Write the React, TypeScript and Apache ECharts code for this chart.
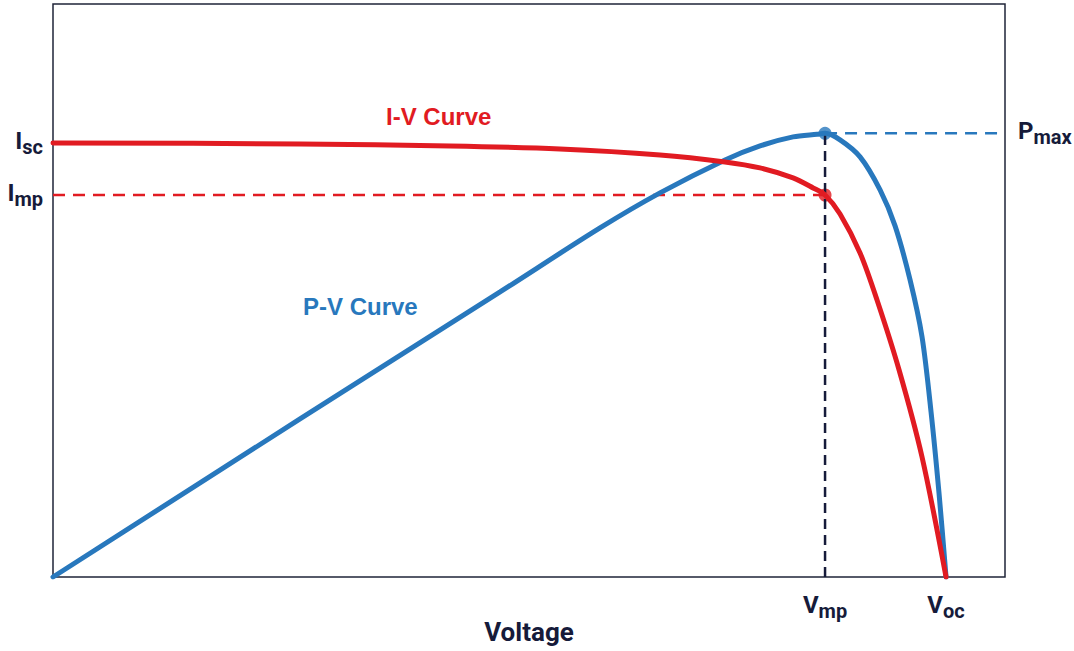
import React, { useEffect, useRef } from "react";
import * as echarts from "echarts";

// I-V curve (voltage normalised so that Voc = 100, current so that Isc = 100)
const ivVoltage = [0, 27.66, 44.46, 56.77, 67.97, 75.25, 79.17, 82.87, 85.11, 86.45, 88.13, 90.37, 92.27, 94.74, 97.31, 100];
const ivCurrent = [100, 99.77, 99.31, 98.62, 97.24, 95.62, 94.24, 91.94, 89.63, 88.0, 83.64, 74.65, 63.82, 47.7, 27.65, 0];

// P-V curve (same normalised axes)
const pvVoltage = [0, 27.66, 50.06, 61.25, 67.97, 75.25, 79.17, 82.87, 85.55, 86.45, 88.13, 90.37, 92.61, 94.29, 95.97, 97.31, 98.32, 99.22, 100];
const pvPower = [0, 36.41, 65.67, 80.41, 88.48, 96.08, 99.31, 101.38, 102.0, 102.2, 100.69, 96.77, 89.17, 80.88, 68.43, 55.3, 38.02, 19.12, 0];

const vmp = 86.45;
const voc = 100;
const isc = 100;
const imp = 88.0;
const pmax = 102.2;
const xMax = 106.6;
const yMax = 132;

const xTickLabels = ["V|mp", "V|oc"];
const leftTickLabels = ["I|sc", "I|mp"];
const rightTickLabels = ["P|max"];

const RED = "#e11b22";
const BLUE = "#2878bd";
const NAVY = "#161b3a";
const FONT = "Roboto, 'Liberation Sans', sans-serif";

const rich = {
  b: { fontSize: 24, fontWeight: "bold", color: NAVY, fontFamily: FONT, padding: [0, 0, 4, 0], verticalAlign: "bottom" },
  s: { fontSize: 20, fontWeight: "bold", color: NAVY, fontFamily: FONT, verticalAlign: "bottom" },
};

function fmt(lbl: string) {
  const [a, b] = lbl.split("|");
  return `{b|${a}}{s|${b}}`;
}

export default function App() {
  const ref = useRef<HTMLDivElement>(null);
  useEffect(() => {
    if (!ref.current) return;
    const chart = echarts.init(ref.current, undefined, { renderer: "svg" });
    const xVals = [vmp, voc];
    const leftVals = [isc, imp];
    chart.setOption({
      animation: false,
      grid: {
        left: 53,
        right: 69,
        top: 4,
        bottom: 74,
        show: true,
        containLabel: false,
        outerBoundsMode: "none",
        borderColor: "#1f2438",
        borderWidth: 1.5,
      },
      xAxis: {
        type: "value",
        min: 0,
        max: xMax,
        name: "Voltage",
        nameLocation: "middle",
        nameGap: 42,
        nameMoveOverlap: false,
        nameTextStyle: { fontSize: 26, fontWeight: "bold", color: NAVY, fontFamily: FONT },
        axisLine: { show: false },
        axisTick: { show: false },
        splitLine: { show: false },
        axisLabel: {
          customValues: xVals,
          margin: 16,
          formatter: (v: number) => fmt(xTickLabels[xVals.findIndex((x) => Math.abs(x - v) < 0.01)] || ""),
          rich,
        },
      },
      yAxis: [
        {
          type: "value",
          min: 0,
          max: yMax,
          axisLine: { show: false },
          axisTick: { show: false },
          splitLine: { show: false },
          axisLabel: {
            customValues: leftVals,
            margin: 10,
            formatter: (v: number) => fmt(leftTickLabels[leftVals.findIndex((x) => Math.abs(x - v) < 0.01)] || ""),
            rich,
          },
        },
        {
          type: "value",
          min: 0,
          max: yMax,
          position: "right",
          axisLine: { show: false },
          axisTick: { show: false },
          splitLine: { show: false },
          axisLabel: {
            customValues: [pmax],
            margin: 13,
            formatter: () => fmt(rightTickLabels[0]),
            rich,
          },
        },
      ],
      series: [
        {
          type: "line",
          data: [[0, imp], [vmp, imp]],
          symbol: "none",
          lineStyle: { color: RED, width: 2.5, type: [12, 8] },
          silent: true,
        },
        {
          type: "line",
          data: [[vmp, pmax], [xMax, pmax]],
          symbol: "none",
          lineStyle: { color: BLUE, width: 2.5, type: [12, 8] },
          silent: true,
        },
        {
          type: "line",
          data: [[vmp, 0], [vmp, pmax]],
          symbol: "none",
          lineStyle: { color: NAVY, width: 2.5, type: [10, 6] },
          silent: true,
        },
        {
          type: "line",
          name: "P-V Curve",
          data: pvVoltage.map((v, i) => [v, pvPower[i]]),
          symbol: "none",
          smooth: 0.3,
          lineStyle: { color: BLUE, width: 5, cap: "round" },
        },
        {
          type: "line",
          name: "I-V Curve",
          data: ivVoltage.map((v, i) => [v, ivCurrent[i]]),
          symbol: "none",
          smooth: 0.3,
          lineStyle: { color: RED, width: 5, cap: "round" },
        },
        {
          type: "scatter",
          data: [[vmp, pmax]],
          symbolSize: 13,
          itemStyle: { color: BLUE },
        },
        {
          type: "scatter",
          data: [[vmp, imp]],
          symbolSize: 13,
          itemStyle: { color: RED },
        },
      ],
      graphic: [
        {
          type: "text",
          left: 386,
          top: 104,
          style: { text: "I-V Curve", fill: RED, font: "bold 24px 'Liberation Sans', Arial, sans-serif" },
        },
        {
          type: "text",
          left: 303,
          top: 294,
          style: { text: "P-V Curve", fill: BLUE, font: "bold 24px 'Liberation Sans', Arial, sans-serif" },
        },
      ],
    });
    return () => chart.dispose();
  }, []);
  return <div ref={ref} style={{ position: "absolute", left: 0, top: 0, width: 1074, height: 651 }} />;
}
